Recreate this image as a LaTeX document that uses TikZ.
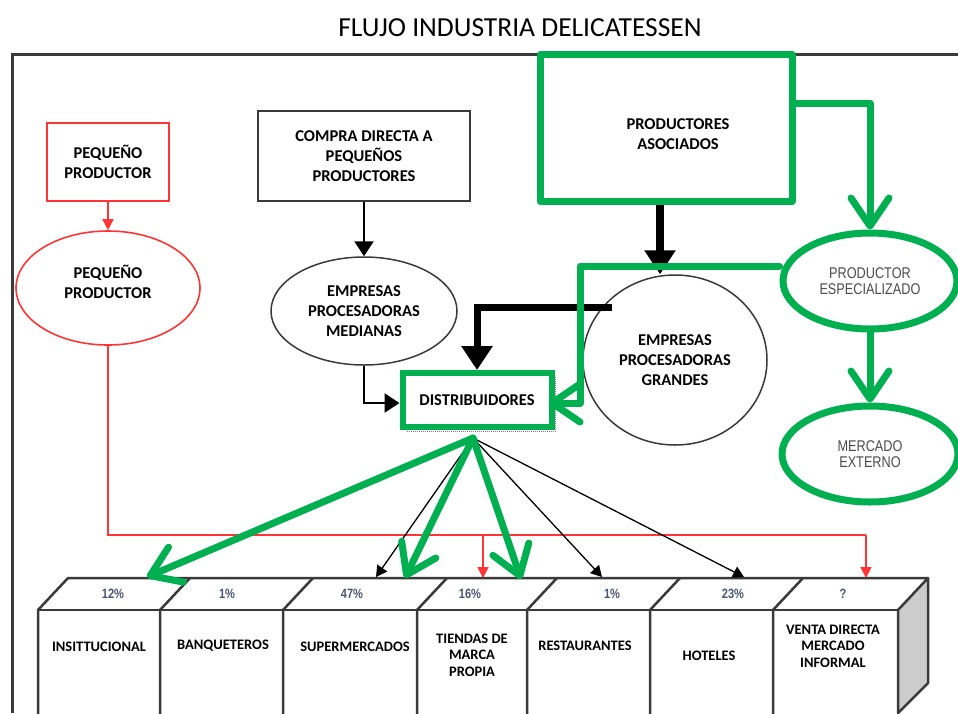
\documentclass[tikz,border=0pt]{standalone}
\usepackage{fontspec}
\setmainfont{Carlito}
\newfontfamily\narrowf[FakeStretch=0.82]{Liberation Sans}
\usetikzlibrary{arrows.meta,shapes.geometric}

\definecolor{pgreen}{HTML}{00B050}
\definecolor{pred}{HTML}{FF3535}
\definecolor{edge}{HTML}{3A3A3A}
\definecolor{pctc}{HTML}{4A5570}
\definecolor{sideg}{HTML}{CCCCCC}

\tikzset{
  lbl/.style={font=\bfseries\fontsize{16.5}{20}\selectfont, align=center, text=black},
  cell/.style={font=\bfseries\fontsize{14.5}{16.5}\selectfont, align=center, text=black},
  gtext/.style={font=\narrowf\fontsize{15.5}{15.5}\selectfont, text=black!70, align=center},
  pct/.style={font=\narrowf\bfseries\fontsize{13.5}{14}\selectfont, text=pctc},
  gbox/.style={draw=pgreen, line width=7pt, line join=round, fill=white},
  gline/.style={draw=pgreen, line width=7pt, line cap=round, line join=round,
                -{Straight Barb[length=28pt,width=38pt,round]}},
  thickarrow/.style={draw=black, line width=7pt, -{Triangle[length=24pt,width=30pt]}},
  thinarrow/.style={draw=black, line width=1.3pt, -{Triangle[length=11pt,width=12pt]}},
  redarrow/.style={draw=pred, line width=1.6pt, -{Triangle[length=11pt,width=11pt]}},
  midarrow/.style={draw=black, line width=2.5pt, -{Triangle[length=15pt,width=19pt]}},
  boxline/.style={draw=edge, line width=2.5pt, line join=round},
}

\begin{document}
\begin{tikzpicture}[x=1pt,y=-1pt]
\useasboundingbox (0,0) rectangle (958,713);
\clip (0,0) rectangle (958,713);
\fill[white] (0,0) rectangle (958,713);

% title and frame
\node (title) at (520,28) {\fontsize{27.5}{30}\selectfont FLUJO INDUSTRIA DELICATESSEN};
\draw[line width=3pt, edge] (12,713) -- (12,54) -- (958,54);

% ---------- bottom block of sales channels ----------
\fill[white] (38,610) -- (68,578) -- (928,578) -- (898,610) -- cycle;
\filldraw[boxline, fill=sideg] (898,610) -- (928,578) -- (928,683) -- (898,713) -- cycle;
\draw[boxline] (38,720) -- (38,610) -- (68,578) -- (928,578);
\draw[boxline] (38,610) -- (898,610) -- (898,720);
\foreach \xx in {160,283,417,527,650,773} {
  \draw[boxline] (\xx,720) -- (\xx,610) -- (\xx+30,578);
}

\node[pct] (p1) at (113,594) {12\%};
\node[pct] (p2) at (227,594) {1\%};
\node[pct] (p3) at (352,594) {47\%};
\node[pct] (p4) at (470,594) {16\%};
\node[pct] (p5) at (612,594) {1\%};
\node[pct] (p6) at (733,594) {23\%};
\node[pct] (p7) at (843,594) {?};

\node[cell] (c1) at (99,647) {INSITTUCIONAL};
\node[cell] (c2) at (223,646) {BANQUETEROS};
\node[cell] (c3) at (355,647) {SUPERMERCADOS};
\node[cell] (c4) at (472,655) {TIENDAS DE\\MARCA\\PROPIA};
\node[cell] (c5) at (585,646) {RESTAURANTES};
\node[cell] (c6) at (709,656) {HOTELES};
\node[cell] (c7) at (833,646) {VENTA DIRECTA\\MERCADO\\INFORMAL};

% ---------- upper nodes ----------
\node[draw=pred, line width=2.2pt, fill=white, minimum width=122pt, minimum height=78pt, lbl]
  (pbox) at (108,162) {PEQUEÑO\\PRODUCTOR};
\node[ellipse, draw=pred, line width=1.6pt, fill=white, minimum width=184pt, minimum height=114pt, inner sep=0pt]
  (pell) at (108,288) {};
\node[lbl] (pelltext) at (108,282) {PEQUEÑO\\PRODUCTOR};

\node[draw=edge, line width=2pt, fill=white, minimum width=212pt, minimum height=90pt, lbl]
  (compra) at (364,156) {COMPRA DIRECTA A\\PEQUEÑOS\\PRODUCTORES};
\node[ellipse, draw=edge, line width=1.5pt, fill=white, minimum width=186pt, minimum height=108pt, inner sep=0pt, lbl]
  (med) at (364,311) {EMPRESAS\\PROCESADORAS\\MEDIANAS};

\node[ellipse, draw=edge, line width=1.5pt, fill=white, minimum width=184pt, minimum height=170pt, inner sep=0pt, lbl]
  (gra) at (675,360) {EMPRESAS\\PROCESADORAS\\GRANDES};

\node[draw=gray, densely dotted, line width=1pt, minimum width=149pt, minimum height=54pt]
  (distshadow) at (481,404) {};
\node[draw=pgreen, line width=6pt, fill=white, minimum width=149pt, minimum height=54pt, lbl]
  (dist) at (477,400) {DISTRIBUIDORES};

\node[gbox, minimum width=252pt, minimum height=147pt] (pa) at (666,128) {};
\node[lbl] (patext) at (678,134) {PRODUCTORES\\ASOCIADOS};
\node[gbox, ellipse, minimum width=174pt, minimum height=96pt, inner sep=0pt, gtext]
  (pe) at (870,281) {PRODUCTOR\\ESPECIALIZADO};
\node[gbox, ellipse, minimum width=176pt, minimum height=96pt, inner sep=0pt, gtext]
  (me) at (870,454) {MERCADO\\EXTERNO};

% ---------- connector points ----------
\coordinate (blk) at (612,307);
\coordinate (gbend) at (580,266);
\coordinate (dsrc) at (473,438);
\coordinate (rsplit) at (483,535);
\coordinate (rend) at (866,535);
\coordinate (t12) at (147,577);
\coordinate (t47) at (376,577);
\coordinate (t47g) at (405,578);
\coordinate (t16) at (521,579);
\coordinate (tres) at (602,577);
\coordinate (thot) at (744,577);
\coordinate (tinf) at (866,578);
\coordinate (tmp) at (483,578);

% red flow of the small producer
\draw[redarrow] (pbox.south) -- (pell.north);
\draw[draw=pred, line width=1.6pt] (pell.south) |- (rend);
\draw[redarrow] (rend) -- (tinf);
\draw[redarrow] (rsplit) -- (tmp);

% black flows
\draw[midarrow] (compra.south) -- (med.north);
\draw[midarrow] (med.south) |- ([yshift=-3pt]dist.west);
\draw[thickarrow, line width=8pt] ([xshift=-6pt]pa.south) -- ([xshift=-6pt]pa.south |- gra.north);
\draw[thickarrow] (blk) -| (dist.north);

\draw[thinarrow] (dsrc) -- (t12);
\draw[thinarrow] (dsrc) -- (t47);
\draw[thinarrow] (dsrc) -- (tres);
\draw[thinarrow] (dsrc) -- (thot);
\draw[draw=blue!60!black, line width=1pt] (dsrc) -- (t16);

% green flows
\draw[gline] ([yshift=25pt]pa.east) -| (pe.north);
\draw[gline] (pe.south) -- (me.north);
\draw[gline] ([yshift=15pt]pe.west) -- (gbend) |- ([xshift=-6pt,yshift=-3pt]dist.east);
\draw[gline] (dsrc) -- (t12);
\draw[gline] (dsrc) -- (t47g);
\draw[gline] (dsrc) -- (t16);
\end{tikzpicture}
\end{document}
